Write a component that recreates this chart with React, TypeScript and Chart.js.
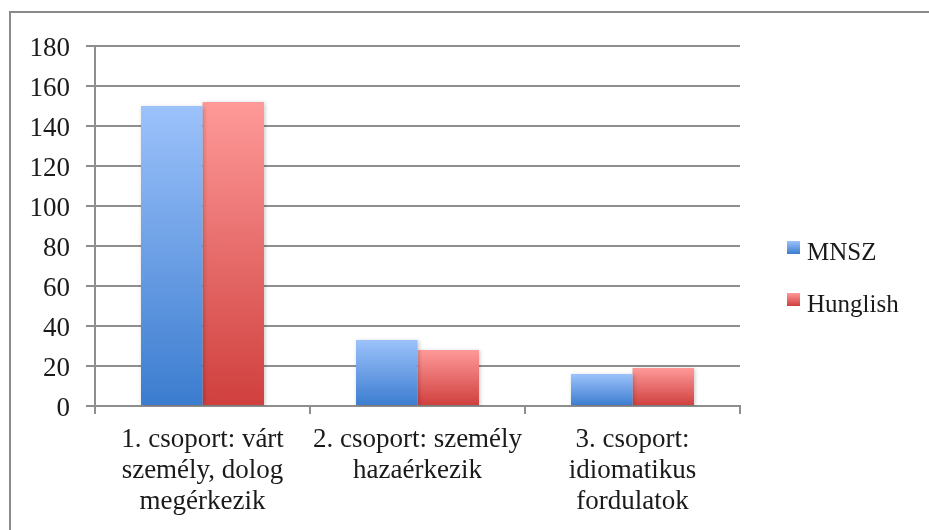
import React, { useEffect, useRef } from "react";
import { Chart, registerables } from "chart.js";

Chart.register(...registerables);

const categories: string[][] = [
  ["1. csoport: várt", "személy, dolog", "megérkezik"],
  ["2. csoport: személy", "hazaérkezik"],
  ["3. csoport:", "idiomatikus", "fordulatok"],
];
const seriesNames = ["MNSZ", "Hunglish"];
const mnszValues = [150, 33, 16];
const hunglishValues = [152, 28, 19];
const yTicks = { min: 0, max: 180, step: 20 };

const FONT = "'Liberation Serif', 'DejaVu Serif', serif";
const TEXT = "#1a1a1a";
const GRID = "#8e8e8e";

const gradients: [string, string][] = [
  ["#9cc2fb", "#3b7ccf"],
  ["#fe9a99", "#cf3f3d"],
];

function barGradient(idx: number) {
  return (ctx: any) => {
    const chart = ctx.chart;
    const { chartArea, scales } = chart;
    const [top, bottom] = gradients[idx];
    if (!chartArea || !scales.y || ctx.raw == null) return top;
    const yTop = scales.y.getPixelForValue(ctx.raw);
    const yBot = scales.y.getPixelForValue(0);
    if (!isFinite(yTop) || !isFinite(yBot) || yBot - yTop < 1) return top;
    const g = chart.ctx.createLinearGradient(0, yTop, 0, yBot);
    g.addColorStop(0, top);
    g.addColorStop(1, bottom);
    return g;
  };
}

const framePlugin = {
  id: "frame",
  beforeDraw(chart: any) {
    const c = chart.ctx;
    c.save();
    c.fillStyle = "#ffffff";
    c.fillRect(0, 0, chart.width, chart.height);
    c.fillStyle = "#8a8a8a";
    c.fillRect(10, 11, chart.width - 10, 2);
    c.fillRect(9, 11, 2, chart.height - 11);
    c.restore();
  },
};

const shadowPlugin = {
  id: "barShadow",
  beforeDatasetsDraw(chart: any) {
    const c = chart.ctx;
    c.save();
    c.shadowColor = "rgba(0,0,0,0.22)";
    c.shadowBlur = 4;
    c.shadowOffsetX = 1;
    c.shadowOffsetY = 1;
  },
  afterDatasetsDraw(chart: any) {
    chart.ctx.restore();
  },
};

const legendPlugin = {
  id: "customLegend",
  afterDraw(chart: any) {
    const c = chart.ctx;
    const x = 787;
    const ys = [241, 293];
    c.save();
    chart.data.datasets.forEach((ds: any, i: number) => {
      const y = ys[i];
      const g = c.createLinearGradient(0, y, 0, y + 13);
      g.addColorStop(0, gradients[i][0]);
      g.addColorStop(1, gradients[i][1]);
      c.fillStyle = g;
      c.fillRect(x, y, 13, 13);
      c.fillStyle = TEXT;
      c.font = `25px ${FONT}`;
      c.textBaseline = "alphabetic";
      c.textAlign = "left";
      c.fillText(ds.label, 807, y + 19);
    });
    c.restore();
  },
};

export default function App() {
  const ref = useRef<HTMLCanvasElement | null>(null);

  useEffect(() => {
    if (!ref.current) return;
    const chart = new Chart(ref.current, {
      type: "bar",
      data: {
        labels: categories,
        datasets: [
          {
            label: seriesNames[0],
            data: mnszValues,
            backgroundColor: barGradient(0),
            borderWidth: 0,
            categoryPercentage: 0.572,
            barPercentage: 1.0,
          },
          {
            label: seriesNames[1],
            data: hunglishValues,
            backgroundColor: barGradient(1),
            borderWidth: 0,
            categoryPercentage: 0.572,
            barPercentage: 1.0,
          },
        ],
      },
      options: {
        animation: false,
        responsive: false,
        maintainAspectRatio: false,
        layout: { padding: { top: 46, right: 189, left: 0, bottom: 0 } },
        plugins: {
          legend: { display: false },
          tooltip: { enabled: false },
        },
        scales: {
          x: {
            offset: true,
            grid: {
              display: true,
              offset: true,
              drawOnChartArea: false,
              drawTicks: true,
              tickLength: 8,
              color: GRID,
              lineWidth: 2,
            },
            border: { display: true, color: GRID, width: 2 },
            ticks: {
              color: TEXT,
              font: { family: FONT, size: 27, lineHeight: 1.14 },
              padding: 11,
              maxRotation: 0,
              autoSkip: false,
            },
            afterFit(scale: any) {
              scale.height = 530 - 406;
            },
          },
          y: {
            min: yTicks.min,
            max: yTicks.max,
            ticks: {
              stepSize: yTicks.step,
              color: TEXT,
              font: { family: FONT, size: 27 },
              padding: 16,
              labelOffset: 3,
            },
            grid: {
              color: GRID,
              lineWidth: 2,
              drawTicks: true,
              tickLength: 9,
            },
            border: { display: true, color: GRID, width: 2 },
            afterFit(scale: any) {
              scale.width = 95;
            },
          },
        },
      },
      plugins: [framePlugin, shadowPlugin, legendPlugin],
    });
    return () => chart.destroy();
  }, []);

  return (
    <div style={{ position: "fixed", left: 0, top: 0, width: 929, height: 530, background: "#fff" }}>
      <canvas ref={ref} width={929} height={530} style={{ display: "block", width: 929, height: 530 }} />
    </div>
  );
}
